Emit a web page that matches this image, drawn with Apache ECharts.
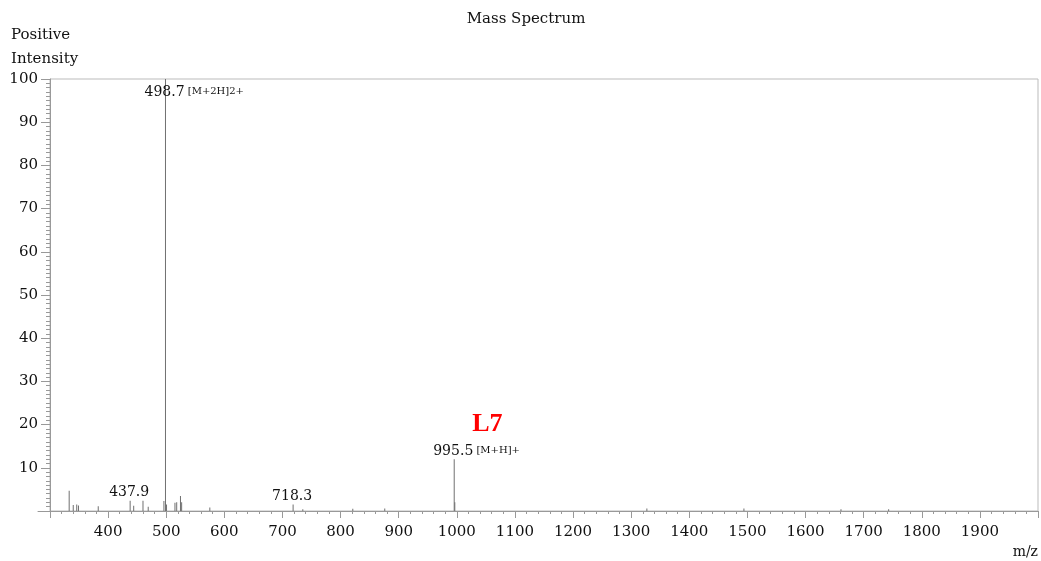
<!DOCTYPE html>
<html>
<head>
<meta charset="utf-8">
<script src="https://cdn.jsdelivr.net/npm/echarts@6/dist/echarts.min.js"></script>
<style>
html,body{margin:0;padding:0;background:#fff;}
#chart{width:1041px;height:561px;}
</style>
</head>
<body>
<div id="chart"></div>
<script>
// m/z values of the peaks and their relative intensities (%)
const peakMz = [333, 340, 346, 349, 383, 437.9, 444, 460, 469, 496, 498.7, 500.5, 515, 518, 524.5, 526.5, 575, 718.3, 735, 821, 876, 995.5, 996.5, 1327, 1494, 1661, 1743];
const peakIntensity = [4.7, 1.4, 1.5, 1.3, 1.1, 2.4, 1.2, 2.4, 1.0, 2.3, 100, 1.5, 1.9, 2.0, 3.5, 2.0, 0.8, 1.5, 0.4, 0.5, 0.6, 12, 2.0, 0.6, 0.6, 0.4, 0.4];
// labelled peaks
const labelMz = [437.9, 498.7, 718.3, 995.5];
const labelNote = ['', '[M+2H]2+', '', '[M+H]+'];
const sampleName = 'L7';
const yTicks = [10, 20, 30, 40, 50, 60, 70, 80, 90, 100];
const xTicks = [400, 500, 600, 700, 800, 900, 1000, 1100, 1200, 1300, 1400, 1500, 1600, 1700, 1800, 1900];

const FONT = 'DejaVu Serif';
const TXT = '#111';

const data = peakMz.map((mz, i) => {
  const item = { value: [mz, peakIntensity[i]] };
  const li = labelMz.indexOf(mz);
  if (li >= 0) {
    const isTop = peakIntensity[i] >= 100;
    const isSample = labelNote[li] === '[M+H]+';
    let fmt = '{n|' + mz.toFixed(1) + '}';
    if (labelNote[li]) fmt += '{a| ' + labelNote[li] + '}';
    if (isSample) fmt = '{l|' + sampleName + '}\n' + fmt;
    item.label = {
      show: true,
      position: isTop ? 'insideTop' : 'top',
      distance: isTop ? 4 : -1,
      align: 'left',
      offset: [-21, 0],
      formatter: fmt,
      rich: {
        n: { fontFamily: FONT, fontSize: 14, color: TXT, lineHeight: 18 },
        a: { fontFamily: FONT, fontSize: 10, color: TXT, lineHeight: 18, verticalAlign: 'middle', padding: [0, 0, 2, 0] },
        l: { fontFamily: 'Liberation Serif', fontWeight: 'bold', fontSize: 26, color: '#ff0000', lineHeight: 36, padding: [0, 0, 0, 39] }
      }
    };
  }
  return item;
});

const chart = echarts.init(document.getElementById('chart'), null, { renderer: 'canvas' });
chart.setOption({
  backgroundColor: '#fff',
  animation: false,
  title: [
    { text: 'Mass Spectrum', left: 526, top: 12, padding: 0, textAlign: 'center',
      textStyle: { fontFamily: FONT, fontSize: 15, fontWeight: 'normal', color: TXT } },
    { text: 'Positive\nIntensity', left: 11, top: 23, padding: 0,
      textStyle: { fontFamily: FONT, fontSize: 15, fontWeight: 'normal', color: TXT, lineHeight: 24 } },
    { text: 'm/z', right: 3, top: 545, padding: 0,
      textStyle: { fontFamily: FONT, fontSize: 14, fontWeight: 'normal', color: TXT } }
  ],
  grid: [
    { left: 50, right: 3, top: 79, bottom: 50, show: true, borderColor: '#bbb', borderWidth: 1, containLabel: false },
    { left: 38, right: 3, top: 79, bottom: 50, show: false, containLabel: false }
  ],
  xAxis: [
    {
      type: 'value', gridIndex: 0, min: 300, max: 2000, interval: 100,
      axisLine: { show: true, lineStyle: { color: '#999', width: 1 } },
      axisTick: { show: true, length: 7, lineStyle: { color: '#999' } },
      minorTick: { show: true, splitNumber: 5, length: 3, lineStyle: { color: '#999' } },
      splitLine: { show: false },
      axisLabel: {
        showMinLabel: false, showMaxLabel: false, margin: 14,
        fontFamily: FONT, fontSize: 15, color: TXT,
        formatter: v => (xTicks.indexOf(v) >= 0 ? String(v) : '')
      }
    },
    {
      type: 'value', gridIndex: 1, min: 0, max: 1,
      axisLine: { show: true, lineStyle: { color: '#999', width: 1 } },
      axisTick: { show: false }, axisLabel: { show: false }, splitLine: { show: false }
    }
  ],
  yAxis: [
    {
      type: 'value', gridIndex: 0, min: 0, max: 100, interval: 10,
      axisLine: { show: true, lineStyle: { color: '#999', width: 1 } },
      axisTick: { show: true, length: 9, lineStyle: { color: '#999' } },
      minorTick: { show: true, splitNumber: 10, length: 4, lineStyle: { color: '#999' } },
      splitLine: { show: false },
      axisLabel: {
        showMinLabel: false, margin: 12,
        fontFamily: FONT, fontSize: 15, color: TXT,
        formatter: v => (yTicks.indexOf(v) >= 0 ? String(v) : '')
      }
    },
    {
      type: 'value', gridIndex: 1, min: 0, max: 1, show: false
    }
  ],
  series: [
    {
      type: 'bar', xAxisIndex: 0, yAxisIndex: 0,
      barWidth: 1, barGap: '-100%',
      itemStyle: { color: '#707070' },
      label: { show: false },
      data: data,
      z: 5
    }
  ]
});
</script>
</body>
</html>
